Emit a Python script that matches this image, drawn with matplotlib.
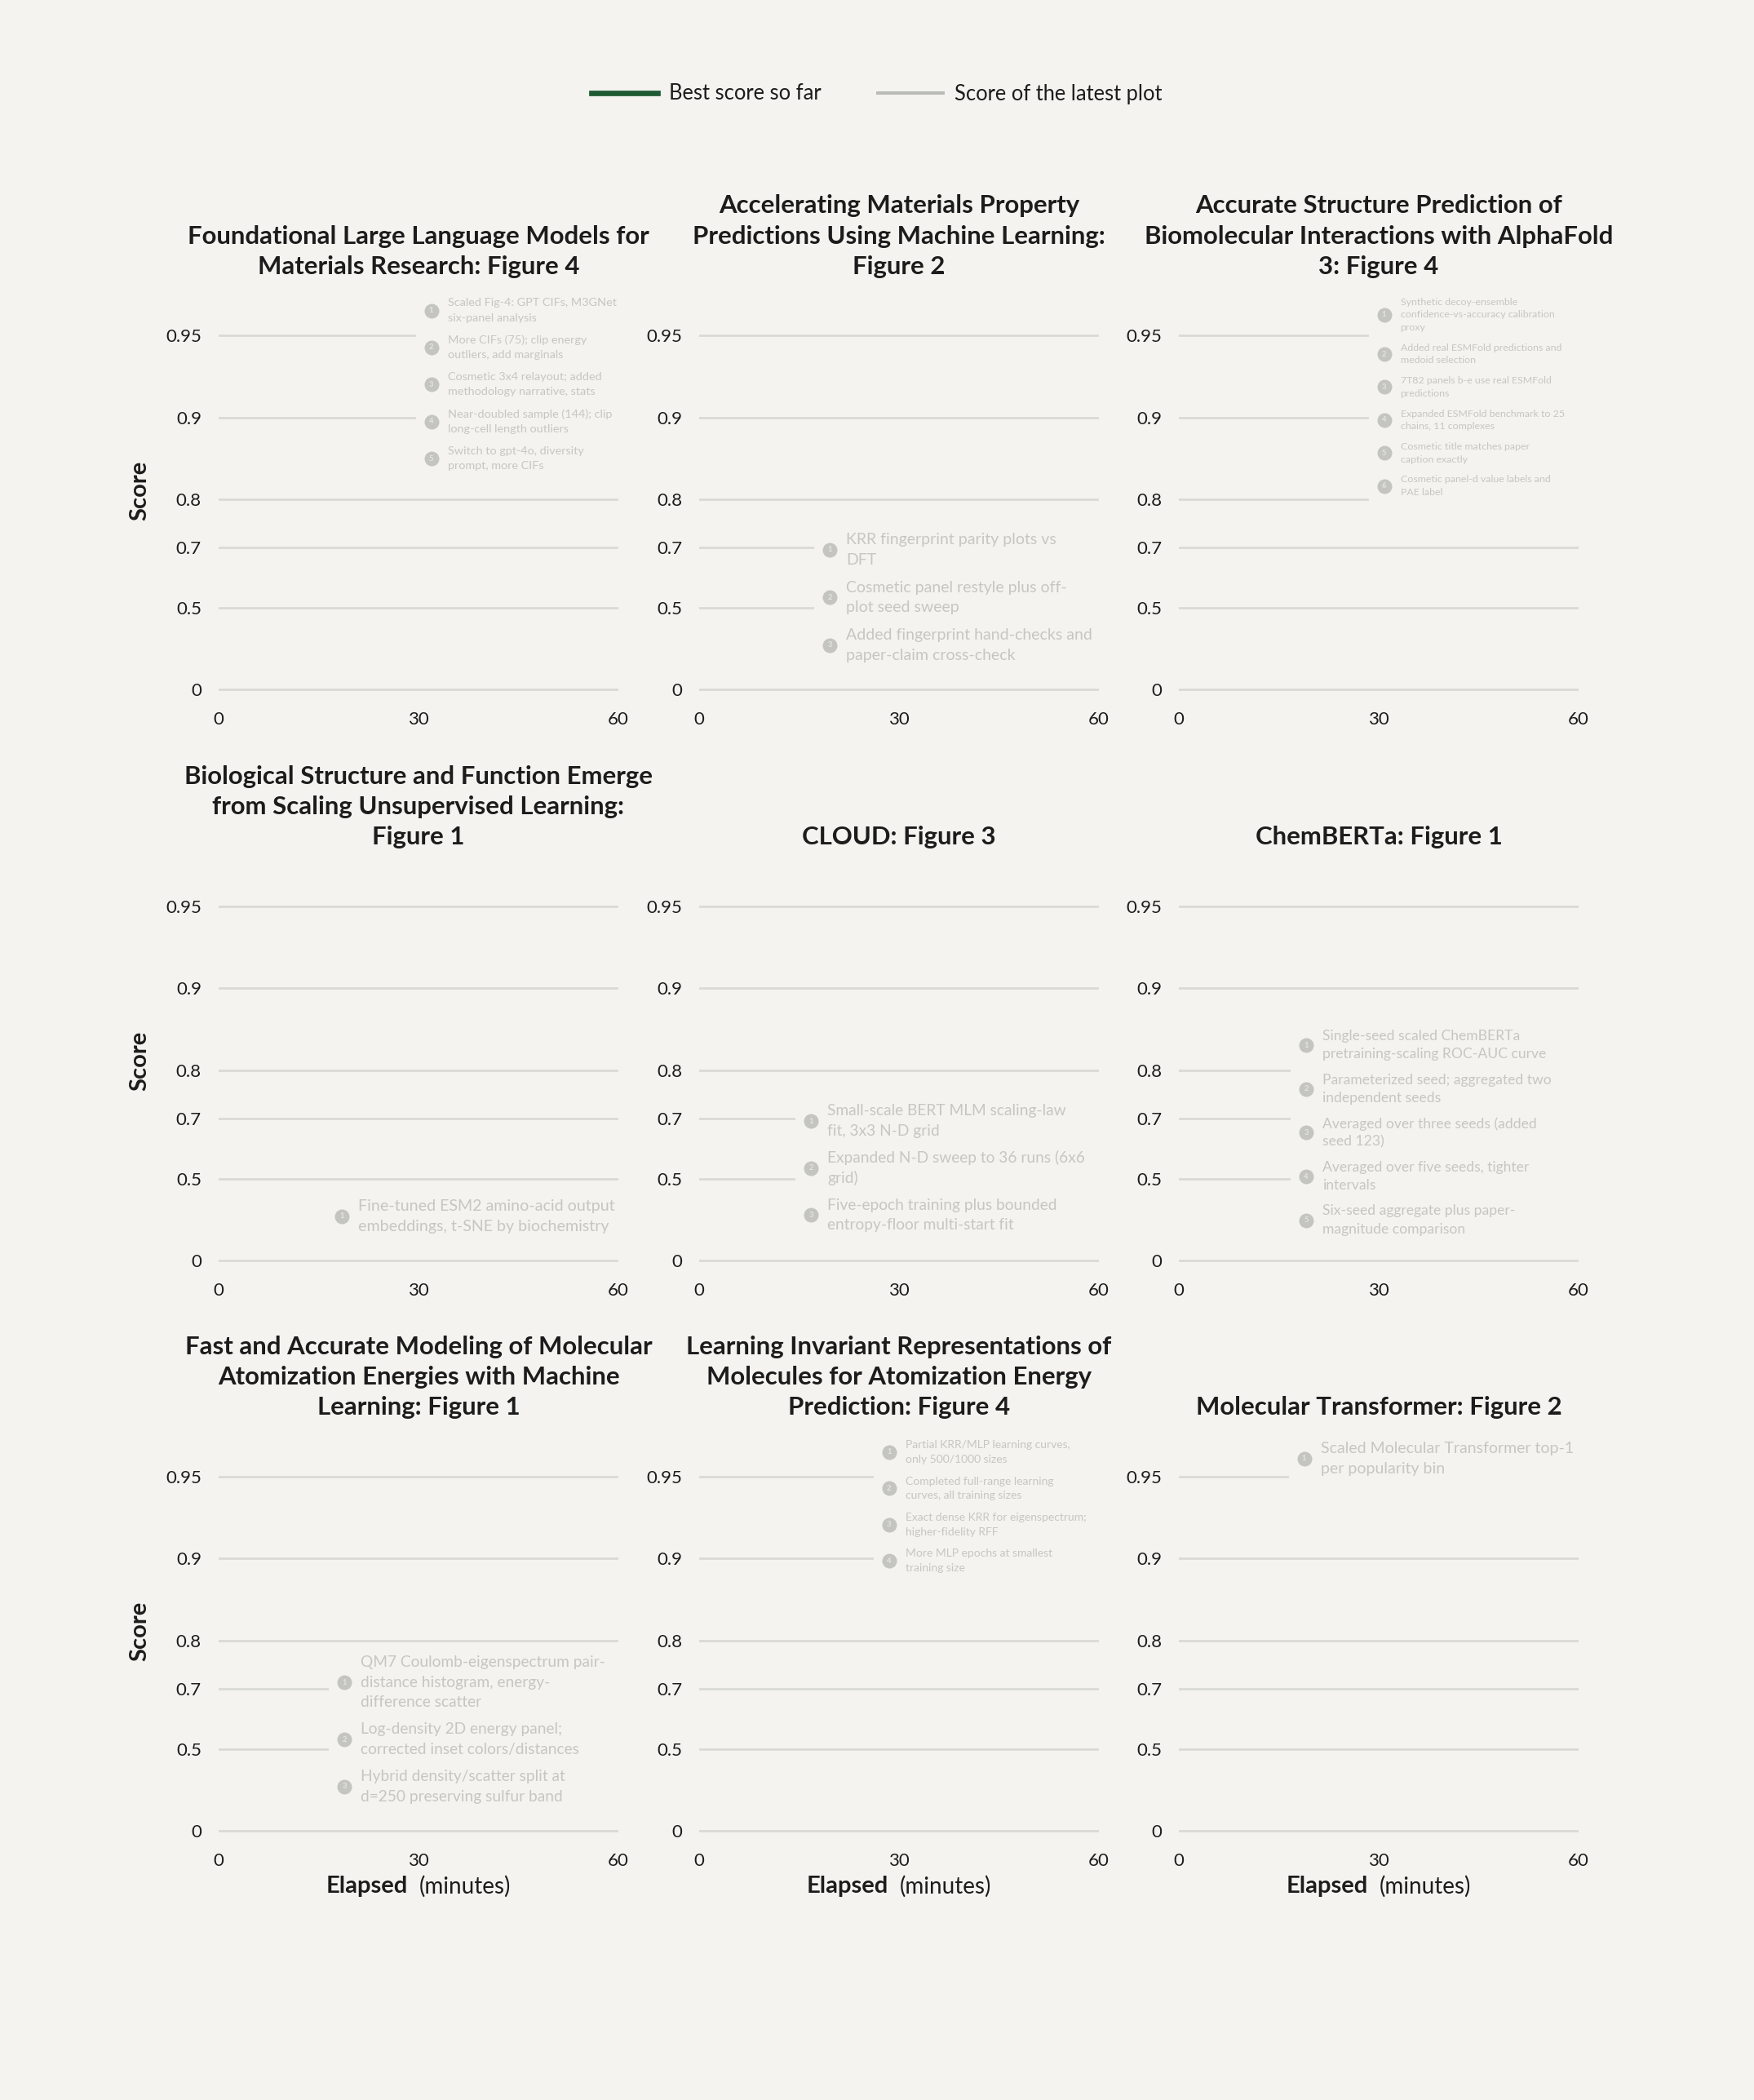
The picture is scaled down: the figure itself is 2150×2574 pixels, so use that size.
import numpy as np
import matplotlib
matplotlib.use('Agg')
import matplotlib.pyplot as plt
from matplotlib.transforms import offset_copy, IdentityTransform
from matplotlib.patches import Rectangle
from matplotlib.lines import Line2D

# ---------------- data ----------------
titles = [
    "Foundational Large Language Models for\nMaterials Research: Figure 4",
    "Accelerating Materials Property\nPredictions Using Machine Learning:\nFigure 2",
    "Accurate Structure Prediction of\nBiomolecular Interactions with AlphaFold\n3: Figure 4",
    "Biological Structure and Function Emerge\nfrom Scaling Unsupervised Learning:\nFigure 1",
    "CLOUD: Figure 3",
    "ChemBERTa: Figure 1",
    "Fast and Accurate Modeling of Molecular\nAtomization Energies with Machine\nLearning: Figure 1",
    "Learning Invariant Representations of\nMolecules for Atomization Energy\nPrediction: Figure 4",
    "Molecular Transformer: Figure 2",
]

y_ticks = [0, 0.5, 0.7, 0.8, 0.9, 0.95]
y_tick_labels = ["0", "0.5", "0.7", "0.8", "0.9", "0.95"]
x_ticks = [0, 30, 60]
x_tick_labels = ["0", "30", "60"]

# score series (nothing visible in the reference: empty)
elapsed = [[] for _ in range(9)]
best_score = [[] for _ in range(9)]
latest_score = [[] for _ in range(9)]

legend_labels = ["Best score so far", "Score of the latest plot"]

notes = [
    [["Scaled Fig-4: GPT CIFs, M3GNet", "six-panel analysis"],
     ["More CIFs (75); clip energy", "outliers, add marginals"],
     ["Cosmetic 3x4 relayout; added", "methodology narrative, stats"],
     ["Near-doubled sample (144); clip", "long-cell length outliers"],
     ["Switch to gpt-4o, diversity", "prompt, more CIFs"]],
    [["KRR fingerprint parity plots vs", "DFT"],
     ["Cosmetic panel restyle plus off-", "plot seed sweep"],
     ["Added fingerprint hand-checks and", "paper-claim cross-check"]],
    [["Synthetic decoy-ensemble", "confidence-vs-accuracy calibration", "proxy"],
     ["Added real ESMFold predictions and", "medoid selection"],
     ["7T82 panels b-e use real ESMFold", "predictions"],
     ["Expanded ESMFold benchmark to 25", "chains, 11 complexes"],
     ["Cosmetic title matches paper", "caption exactly"],
     ["Cosmetic panel-d value labels and", "PAE label"]],
    [["Fine-tuned ESM2 amino-acid output", "embeddings, t-SNE by biochemistry"]],
    [["Small-scale BERT MLM scaling-law", "fit, 3x3 N-D grid"],
     ["Expanded N-D sweep to 36 runs (6x6", "grid)"],
     ["Five-epoch training plus bounded", "entropy-floor multi-start fit"]],
    [["Single-seed scaled ChemBERTa", "pretraining-scaling ROC-AUC curve"],
     ["Parameterized seed; aggregated two", "independent seeds"],
     ["Averaged over three seeds (added", "seed 123)"],
     ["Averaged over five seeds, tighter", "intervals"],
     ["Six-seed aggregate plus paper-", "magnitude comparison"]],
    [["QM7 Coulomb-eigenspectrum pair-", "distance histogram, energy-", "difference scatter"],
     ["Log-density 2D energy panel;", "corrected inset colors/distances"],
     ["Hybrid density/scatter split at", "d=250 preserving sulfur band"]],
    [["Partial KRR/MLP learning curves,", "only 500/1000 sizes"],
     ["Completed full-range learning", "curves, all training sizes"],
     ["Exact dense KRR for eigenspectrum;", "higher-fidelity RFF"],
     ["More MLP epochs at smallest", "training size"]],
    [["Scaled Molecular Transformer top-1", "per popularity bin"]],
]

# ---------------- layout / style ----------------
W, H, DPI = 2150, 2574, 200
PX = 72.0 / DPI          # points per pixel

BG = "#f4f3ef"
GRID = "#d9d9d6"
INK = "#1c1c1c"
NOTE_TXT = "#c6c6c2"
NOTE_DOT = "#c4c4c0"
GREEN = "#1f5a35"
GREY_LINE = "#b8bbb6"

# note group anchors (top note marker) and line pitch in pixels
note_anchor_x = [31.9, 19.6, 30.8, 18.5, 16.8, 19.1, 18.9, 28.5, 18.8]
note_anchor_y = [0.9595, 0.6935, 0.958, 0.313, 0.6928, 0.838, 0.715, 0.9593, 0.957]
note_pitch = [18.2, 24.7, 15.7, 25.0, 24.3, 22.3, 24.4, 17.7, 24.7]
NOTE_GAP = 9.0

col_left = [268, 857, 1445]
AX_W = 490
row_zero = [845.4, 1545.1, 2244.1]
K = 333.8                 # pixels per decade of -log10(1-y)
Y_LO, Y_HI = -0.01, 0.966


def fwd(y):
    y = np.asarray(y, dtype=float)
    with np.errstate(divide="ignore", invalid="ignore"):
        return -np.log10(1.0 - y)


def inv(t):
    t = np.asarray(t, dtype=float)
    return 1.0 - 10.0 ** (-t)


plt.rcParams["font.family"] = ["Lato", "DejaVu Sans"]

fig = plt.figure(figsize=(W / DPI, H / DPI), dpi=DPI, facecolor=BG)

axes = []
for i in range(9):
    r, c = divmod(i, 3)
    bot_px = row_zero[r] - float(fwd(Y_LO)) * K
    top_px = row_zero[r] - float(fwd(Y_HI)) * K
    ax = fig.add_axes([col_left[c] / W, 1 - bot_px / H, AX_W / W, (bot_px - top_px) / H])
    axes.append(ax)
    ax.set_facecolor("none")
    ax.set_xlim(0, 60)
    ax.set_yscale("function", functions=(fwd, inv))
    ax.set_ylim(Y_LO, Y_HI)
    ax.set_yticks(y_ticks)
    ax.set_yticklabels(y_tick_labels)
    ax.set_xticks(x_ticks)
    ax.set_xticklabels(x_tick_labels)
    ax.minorticks_off()
    for s in ax.spines.values():
        s.set_visible(False)
    ax.tick_params(axis="y", length=0, pad=21 * PX, labelsize=8, colors=INK)
    ax.tick_params(axis="x", length=0, pad=25 * PX, labelsize=8, colors=INK)
    ax.yaxis.grid(True, color=GRID, lw=2.7 * PX, zorder=0)
    ax.xaxis.grid(False)
    ax.set_axisbelow(True)

    ax.plot(elapsed[i], latest_score[i], color=GREY_LINE, lw=4 * PX, zorder=3)
    ax.plot(elapsed[i], best_score[i], color=GREEN, lw=6.7 * PX, zorder=3)

    ax.set_title(titles[i], fontsize=11.2, fontweight="bold", color=INK, pad=7.0,
                 linespacing=1.4)

    if c == 0:
        ax.text(-0.1967, 0.5, "Score", transform=ax.transAxes, rotation=90,
                ha="center", va="center", fontsize=10.5, fontweight="bold", color=INK)

    # ---- version notes ----
    items = notes[i]
    L = note_pitch[i]
    fs = L / 1.27 * PX
    centers = []
    cpos = 0.0
    for k, lines in enumerate(items):
        if k > 0:
            cpos += len(items[k - 1]) * L / 2 + NOTE_GAP + len(lines) * L / 2
        centers.append(cpos)
    ax_x, ax_y = note_anchor_x[i], note_anchor_y[i]
    dx0, dy0 = ax.transData.transform((ax_x, ax_y))
    box_top = dy0 + len(items[0]) * L / 2 + 8
    box_bot = dy0 - centers[-1] - len(items[-1]) * L / 2 - 8
    ax_right = ax.transAxes.transform((1.0, 0.0))[0]
    rect = Rectangle((dx0 - 19, box_bot), ax_right - (dx0 - 19) + 4, box_top - box_bot,
                     transform=IdentityTransform(), facecolor=BG, edgecolor="none",
                     zorder=2)
    ax.add_patch(rect)
    for k, lines in enumerate(items):
        tr = offset_copy(ax.transData, fig=fig, x=0, y=-centers[k], units="dots")
        ax.plot([ax_x], [ax_y], "o", ms=18 * PX, color=NOTE_DOT, mec="none",
                transform=tr, zorder=4, clip_on=False)
        ax.text(ax_x, ax_y, str(k + 1), transform=tr, ha="center", va="center",
                fontsize=3.4, color="#e4e4e0", fontweight="bold", zorder=5)
        n = len(lines)
        for j, line in enumerate(lines):
            yoff = -centers[k] + ((n - 1) / 2 - j) * L
            tr2 = offset_copy(ax.transData, fig=fig, x=20, y=yoff, units="dots")
            ax.text(ax_x, ax_y, line, transform=tr2, ha="left", va="center",
                    fontsize=fs, color=NOTE_TXT, zorder=5, clip_on=False)

# x-axis labels on bottom row: bold "Elapsed" + regular "(minutes)"
label_pairs = []
for i in range(6, 9):
    ax = axes[i]
    t1 = ax.text(0.5, -0.1353, "Elapsed", transform=ax.transAxes, ha="right",
                 va="center", fontsize=10.5, fontweight="bold", color=INK)
    t2 = ax.text(0.5, -0.1353, "(minutes)", transform=ax.transAxes, ha="left",
                 va="center", fontsize=10, color=INK)
    label_pairs.append((ax, t1, t2))

fig.canvas.draw()
rend = fig.canvas.get_renderer()
for ax, t1, t2 in label_pairs:
    w1 = t1.get_window_extent(rend).width
    w2 = t2.get_window_extent(rend).width
    gap = 14
    total = w1 + gap + w2
    axw = ax.get_window_extent(rend).width
    start = 0.5 - (total / 2) / axw
    t1.set_x(start + w1 / axw)
    t2.set_x(start + (w1 + gap) / axw)

handles = [Line2D([], [], color=GREEN, lw=6.7 * PX),
           Line2D([], [], color=GREY_LINE, lw=4 * PX)]
leg = fig.legend(handles, legend_labels, loc="center", bbox_to_anchor=(0.5, 1 - 115 / H),
                 ncol=2, frameon=False, fontsize=9.2, handlelength=3.15,
                 handletextpad=0.55, columnspacing=2.7)
for t in leg.get_texts():
    t.set_color(INK)

fig.savefig("out.png", dpi=DPI, facecolor=BG)
